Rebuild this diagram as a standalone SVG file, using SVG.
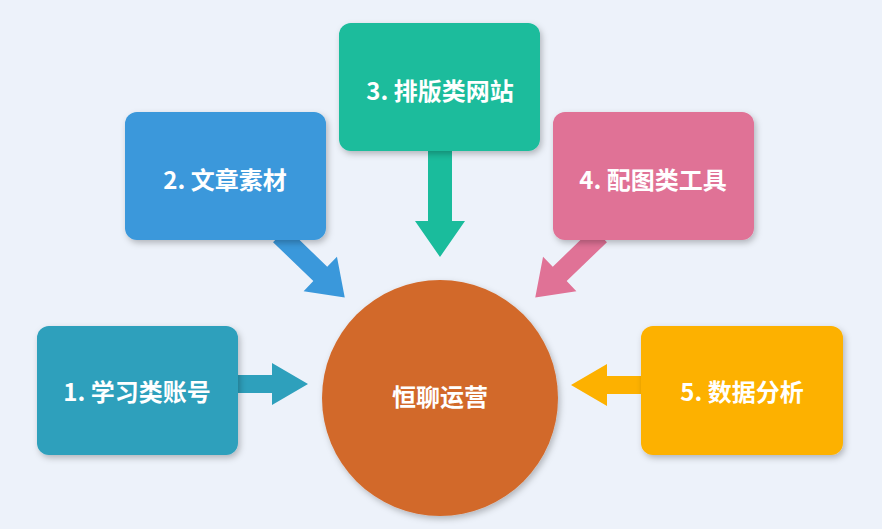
<svg xmlns="http://www.w3.org/2000/svg" width="882" height="529" viewBox="0 0 882 529">
<defs>
<filter id="sh" x="-10%" y="-10%" width="125%" height="130%"><feDropShadow dx="2" dy="3" stdDeviation="3" flood-color="#000" flood-opacity="0.25"/></filter>
<style>
.t{font-family:"Noto Sans CJK SC","Noto Sans",sans-serif;font-weight:bold;font-size:24px;fill:#fff;text-anchor:middle;dominant-baseline:central}
.b{filter:url(#sh)}
</style>
</defs>
<rect width="882" height="529" fill="#EDF2FA"/>
<g id="connectors">
<polygon fill="#2EA0BC" transform="translate(238,384)" points="0,-9 34,-9 34,-21 70,0 34,21 34,9 0,9"/>
<polygon fill="#3A98DB" transform="translate(280,235) rotate(44)" points="0,-10 56,-10 56,-24 90,0 56,24 56,10 0,10"/>
<polygon fill="#1ABC9C" transform="translate(440,151) rotate(90)" points="0,-12 70,-12 70,-25 106,0 70,25 70,12 0,12"/>
<polygon fill="#E07296" transform="translate(600,235) rotate(136)" points="0,-10 56,-10 56,-24 90,0 56,24 56,10 0,10"/>
<polygon fill="#FDB100" transform="translate(641,385) rotate(180)" points="0,-9 34,-9 34,-21 70,0 34,21 34,9 0,9"/>
</g>
<g id="n1"><rect class="b" x="37" y="326" width="201" height="129" rx="12" fill="#2EA0BC"/><text class="t" x="137" y="390">1. 学习类账号</text></g>
<g id="n2"><rect class="b" x="125" y="112" width="201" height="128" rx="12" fill="#3A98DB"/><text class="t" x="225" y="178">2. 文章素材</text></g>
<g id="n3"><rect class="b" x="339" y="23" width="201" height="128" rx="12" fill="#1ABC9C"/><text class="t" x="440" y="89">3. 排版类网站</text></g>
<g id="n4"><rect class="b" x="553" y="112" width="201" height="128" rx="12" fill="#E07296"/><text class="t" x="653" y="178">4. 配图类工具</text></g>
<g id="n5"><rect class="b" x="641" y="326" width="202" height="129" rx="12" fill="#FDB100"/><text class="t" x="742" y="390">5. 数据分析</text></g>
<g id="center"><circle class="b" cx="440" cy="398" r="118" fill="#D2692A"/><text class="t" x="440" y="395">恒聊运营</text></g>
</svg>
